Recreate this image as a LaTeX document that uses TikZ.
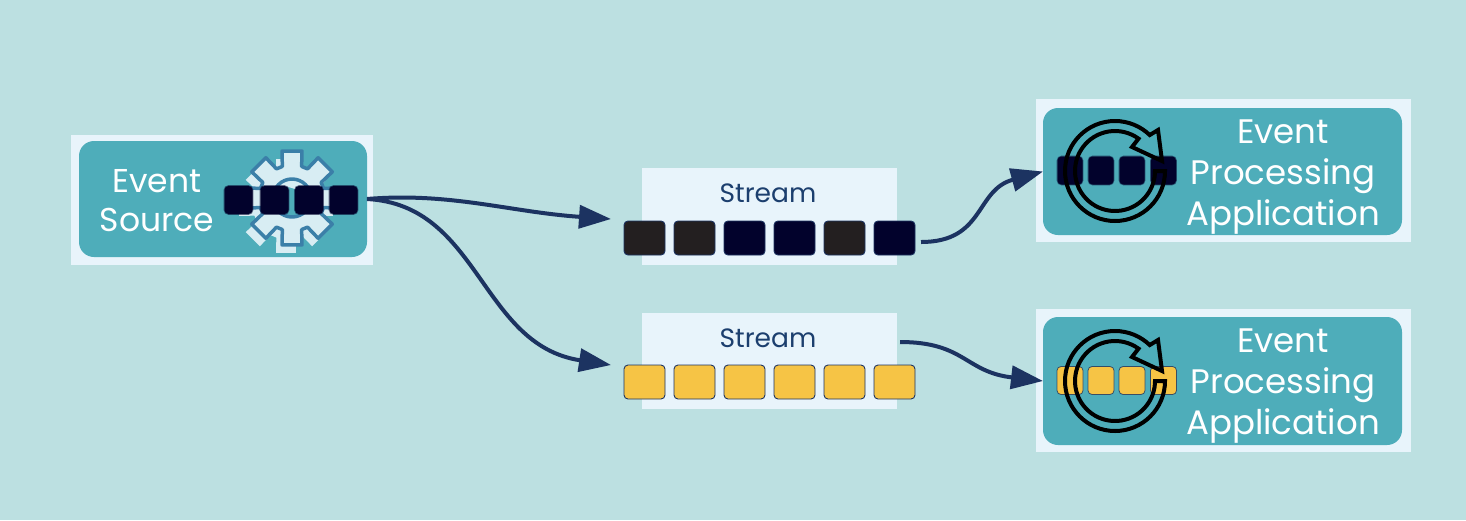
\documentclass[tikz,border=0pt]{standalone}
\usepackage{fontspec}
\setmainfont{Poppins}
\usetikzlibrary{arrows.meta,positioning,calc}
\definecolor{bgteal}{HTML}{BCE0E1}
\definecolor{panelblue}{HTML}{E8F4FB}
\definecolor{boxteal}{HTML}{4EADBA}
\definecolor{navysq}{HTML}{02022C}
\definecolor{blacksq}{HTML}{231F20}
\definecolor{yellowsq}{HTML}{F6C445}
\definecolor{linknavy}{HTML}{1C3361}
\definecolor{streamtext}{HTML}{1C3F6E}
\definecolor{gearline}{HTML}{3B7FA8}
\definecolor{gearfill}{HTML}{D8EDF3}
\tikzset{
  panelbox/.style={fill=panelblue,inner sep=0pt,outer sep=0pt},
  tealbox/.style={fill=boxteal,rounded corners=15pt,inner sep=0pt,outer sep=0pt},
  eventsq/.style={rounded corners=4pt,minimum width=41pt,minimum height=34pt,inner sep=0pt,outer sep=0pt,draw=linknavy,line width=0.9pt},
  blursq/.style={rounded corners=4pt,minimum width=28pt,minimum height=28pt,inner sep=0pt,outer sep=0pt,draw=#1,draw opacity=0.55,line width=1.6pt,fill=#1},
  boxlabel/.style={text=white,font=\fontsize{34}{41}\selectfont,align=center,inner sep=0pt},
  sourcelabel/.style={text=white,font=\fontsize{33}{39}\selectfont,align=center,inner sep=0pt},
  streamlabel/.style={text=streamtext,font=\fontsize{26.5}{30}\selectfont,inner sep=0pt},
  link/.style={draw=linknavy,line width=4pt},
  linkarrow/.style={link,-{Triangle[length=32pt,width=23pt]}}
}
\newcommand{\gearpath}{
  (-17:33) \foreach \a in {0,45,...,315} {
    -- (\a-17:33) -- (\a-12:48) -- (\a+12:48) -- (\a+17:33)
  } -- cycle (0,0) circle (19)
}
\newcommand{\procring}[2]{
  \draw[black,line width=4pt,line join=miter] ($(#1,#2)+(0:50)$) arc (0:314:50)
    -- ($(#1,#2)+(43,-41)$) -- ($(#1,#2)+(47,-10)$) -- ($(#1,#2)+(17,-24)$)
    -- ($(#1,#2)+(306:40)$) arc (306:0:40) -- cycle;
}
\begin{document}
\begin{tikzpicture}[x=1pt,y=-1pt]
  \useasboundingbox (0,0) rectangle (1466,520);
  \fill[bgteal] (0,0) rectangle (1466,520);

  % source
  \node[panelbox,minimum width=302pt,minimum height=130pt] (sourcepanel) at (222,200) {};
  \node[tealbox,minimum width=288pt,minimum height=116pt] (source) at (223,199) {};
  \node[sourcelabel] (sourcetext) at (157,201) {Event\\Source};
  \begin{scope}[shift={(286,206)}]
    \fill[gearfill,even odd rule] \gearpath;
  \end{scope}
  \begin{scope}[shift={(292,198)}]
    \filldraw[fill=gearfill,draw=gearline,line width=3.5pt,line join=round,even odd rule] \gearpath;
  \end{scope}
  \foreach \n/\x in {1/238.5,2/274.5,3/309,4/343.5} {
    \node[blursq=navysq] (sourcesq\n) at (\x,200) {};
  }

  % streams
  \node[panelbox,minimum width=255pt,minimum height=97pt] (streamtop) at (769.5,216.5) {};
  \node[panelbox,minimum width=255pt,minimum height=96pt] (streambot) at (769.5,361) {};
  \node[streamlabel] (streamtoptext) at (768,193.5) {Stream};
  \node[streamlabel] (streambottext) at (768,338.5) {Stream};
  \foreach \n/\x/\c in {1/644.5/blacksq,2/694.5/blacksq,3/744.5/navysq,4/794.5/navysq,5/844.5/blacksq,6/894.5/navysq} {
    \node[eventsq,fill=\c] (topsq\n) at (\x,238) {};
  }
  \foreach \n/\x in {1/644.5,2/694.5,3/744.5,4/794.5,5/844.5,6/894.5} {
    \node[eventsq,fill=yellowsq] (botsq\n) at (\x,382) {};
  }

  % applications
  \node[panelbox,minimum width=375pt,minimum height=143pt] (apptoppanel) at (1223.5,170.5) {};
  \node[panelbox,minimum width=375pt,minimum height=143pt] (appbotpanel) at (1223.5,380.5) {};
  \node[tealbox,minimum width=359pt,minimum height=127pt] (apptop) at (1222.5,171.5) {};
  \node[tealbox,minimum width=359pt,minimum height=128pt] (appbot) at (1222.5,381) {};
  \node[boxlabel] (apptoptext) at (1283,177) {Event\\Processing\\Application};
  \node[boxlabel] (appbottext) at (1283,386) {Event\\Processing\\Application};
  \foreach \n/\x in {1/1070,2/1101,3/1132,4/1163.5} {
    \node[blursq=navysq,minimum width=25pt] (apptopsq\n) at (\x,170.5) {};
    \node[blursq=yellowsq,draw=linknavy,draw opacity=0.8,line width=0.8pt,minimum width=26pt] (appbotsq\n) at (\x,380.5) {};
  }
  \procring{1115}{171}
  \procring{1115}{381}

  % links
  \coordinate (topin) at (611,219);
  \coordinate (botin) at (611,365);
  \coordinate (topout) at (921,242);
  \coordinate (botout) at (900,342);
  \draw[linkarrow] (source.east) .. controls (450,192) and (510,212) .. (topin);
  \draw[linkarrow] (source.east) .. controls (480,205) and (480,345) .. (botin);
  \draw[linkarrow] (topout) .. controls (985,242) and (975,190) .. (apptop.west);
  \draw[linkarrow] (botout) .. controls (965,342) and (965,372) .. (appbot.west);
\end{tikzpicture}
\end{document}
